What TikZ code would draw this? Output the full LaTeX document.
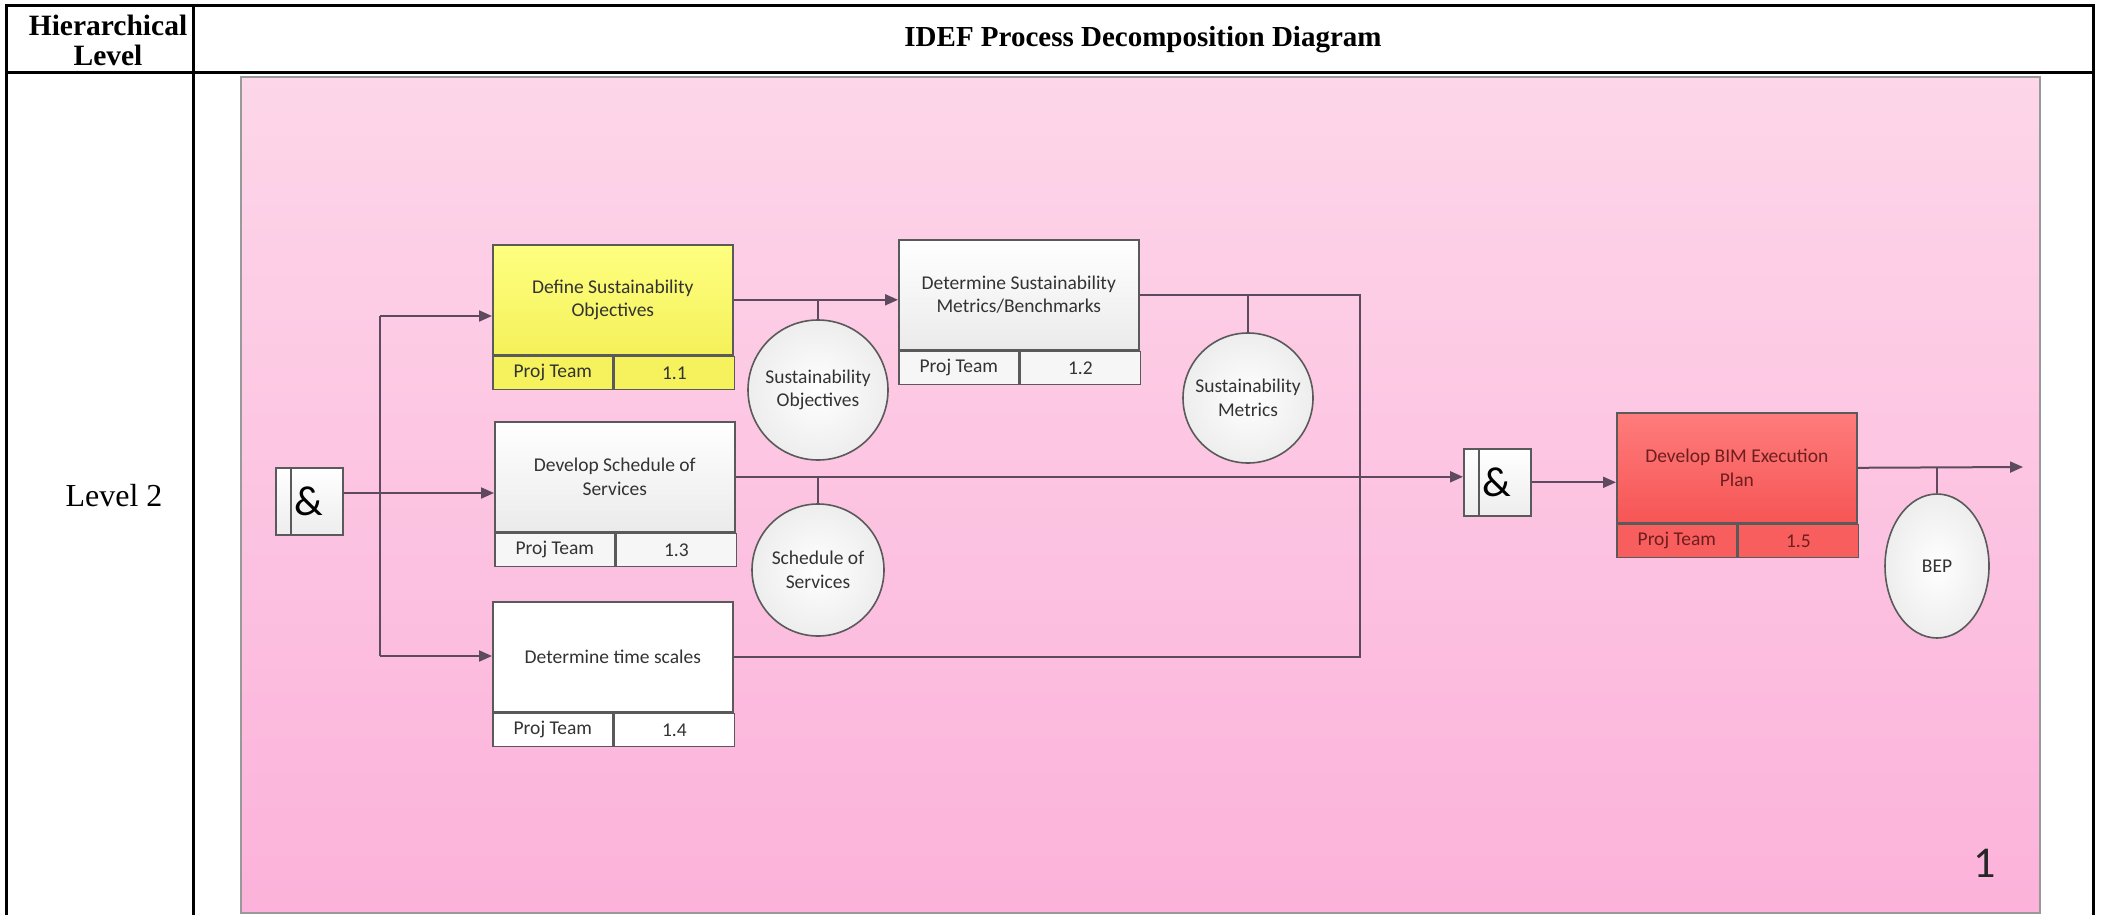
\documentclass[tikz,border=0pt]{standalone}
\usepackage{fontspec}
\setmainfont{Liberation Serif}
\newfontfamily\visiofont{Carlito}
\usetikzlibrary{arrows.meta,shapes.geometric}

\definecolor{pinktop}{HTML}{FDD6E9}
\definecolor{pinkbot}{HTML}{FCB2DA}
\definecolor{flowline}{HTML}{5E4A5E}
\definecolor{boxline}{HTML}{5A5A5A}
\definecolor{boxtext}{HTML}{333333}
\definecolor{yeltop}{HTML}{FFFF80}
\definecolor{yelbot}{HTML}{F4F15A}
\definecolor{yelfoot}{HTML}{F5F25E}
\definecolor{redtop}{HTML}{FF7C7C}
\definecolor{redbot}{HTML}{F65555}
\definecolor{redfoot}{HTML}{F85E5E}
\definecolor{redtext}{HTML}{6E1E1E}

\tikzset{
  boxfont/.style={font=\visiofont\fontsize{19.5}{23.5}\selectfont},
  procbox/.style={draw=boxline, line width=1.6pt, minimum width=240pt, minimum height=110pt,
    inner sep=0pt, anchor=north west, align=center, boxfont, text=boxtext},
  graybox/.style={procbox, top color=white, bottom color=gray!16},
  footcell/.style={draw=boxline, line width=1.6pt, minimum width=120pt, minimum height=33pt,
    inner sep=0pt, anchor=north west, boxfont, text=boxtext, fill=gray!7},
  datacircle/.style={circle, draw=boxline, line width=1.6pt, inner sep=0pt, align=center,
    boxfont, text=boxtext, inner color=white, outer color=gray!14},
  gatebox/.style={draw=boxline, line width=1.6pt, minimum width=67pt, minimum height=67pt,
    inner sep=0pt, anchor=north west, top color=white, bottom color=gray!14,
    font=\visiofont\fontsize{42}{42}\selectfont},
  link/.style={draw=flowline, line width=2pt},
  flow/.style={link, -{Triangle[length=13pt,width=11pt]}},
  tablerule/.style={line width=3pt, black}
}

\begin{document}
\begin{tikzpicture}[x=1pt, y=-1pt]
    \useasboundingbox (0,0) rectangle (2103,915);

    % Table frame
    \draw[tablerule] (6,915) -- (6,6) -- (2093,6) -- (2093,915);
    \draw[tablerule] (193,6) -- (193,915);
    \draw[tablerule] (6,73) -- (2093,73);

    % Headers
    \node[font=\bfseries\fontsize{29.5}{30}\selectfont, align=center] (hdrlevel) at (108,40) {Hierarchical\\Level};
    \node[font=\bfseries\fontsize{29}{30}\selectfont] (hdrtitle) at (1143,40) {IDEF Process Decomposition Diagram};
    \node[font=\fontsize{32}{36}\selectfont] (lvltwo) at (114,496) {Level 2};

    % Pink sheet
    \shadedraw[top color=pinktop, bottom color=pinkbot, draw=gray!80, line width=1.5pt] (241,77) rectangle (2040,913);
    \node[font=\visiofont\fontsize{44}{44}\selectfont, text=black!85] (sheetnum) at (1985,863) {1};

    % Activities
    \node[procbox, top color=yeltop, bottom color=yelbot] (p11) at (492,244) {Define Sustainability\\Objectives};
    \node[footcell, fill=yelfoot] (p11team) at (p11.south west) {Proj Team};
    \node[footcell, fill=yelfoot] (p11num) at (p11team.north east) {1.1};

    \node[graybox] (p12) at (898,239) {Determine Sustainability\\Metrics/Benchmarks};
    \node[footcell] (p12team) at (p12.south west) {Proj Team};
    \node[footcell] (p12num) at (p12team.north east) {1.2};

    \node[graybox] (p13) at (494,421) {Develop Schedule of\\Services};
    \node[footcell] (p13team) at (p13.south west) {Proj Team};
    \node[footcell] (p13num) at (p13team.north east) {1.3};

    \node[procbox, fill=white] (p14) at (492,601) {Determine time scales};
    \node[footcell, fill=white] (p14team) at (p14.south west) {Proj Team};
    \node[footcell, fill=white] (p14num) at (p14team.north east) {1.4};

    \node[procbox, top color=redtop, bottom color=redbot, text=redtext] (p15) at (1616,412) {Develop BIM Execution\\Plan};
    \node[footcell, fill=redfoot, text=redtext] (p15team) at (p15.south west) {Proj Team};
    \node[footcell, fill=redfoot, text=redtext] (p15num) at (p15team.north east) {1.5};

    % Junctions
    \node[gatebox] (g1) at (275,467) {\&};
    \draw[draw=boxline, line width=1.6pt] ([xshift=16pt]g1.north west) -- ([xshift=16pt]g1.south west);
    \node[gatebox] (g2) at (1463,448) {\&};
    \draw[draw=boxline, line width=1.6pt] ([xshift=16pt]g2.north west) -- ([xshift=16pt]g2.south west);

    % Outputs
    \node[datacircle, minimum size=140pt] (c1) at (818,390) {Sustainability\\Objectives};
    \node[datacircle, minimum size=132pt] (c2) at (818,570) {Schedule of\\Services};
    \node[datacircle, minimum size=130pt] (c3) at (1248,398) {Sustainability\\Metrics};
    \node[datacircle, ellipse, minimum width=104pt, minimum height=144pt] (c4) at (1937,566) {BEP};

    % Fan out from the first junction
    \coordinate (split) at (380,493);
    \coordinate (splittop) at (380,316);
    \coordinate (splitbot) at (380,656);
    \draw[link] (g1.east |- split) -- (split);
    \draw[link] (splittop) -- (splitbot);
    \draw[flow] (split) -- (split -| p13.west);
    \draw[flow] (splittop) -- (splittop -| p11.west);
    \draw[flow] (splitbot) -- (splitbot -| p14.west);

    % Flows between activities
    \draw[flow] (p11.east) -- (p11.east -| p12.west);
    \draw[link] (c1.north) -- (c1.north |- p11.east);
    \coordinate (merge) at (1360,476);
    \draw[link] (p12.east) -| (merge);
    \draw[link] (p14.east) -| (merge);
    \draw[link] (c3.north) -- (c3.north |- p12.east);
    \draw[flow] (p13.east) -- (p13.east -| g2.west);
    \draw[link] (c2.north) -- (c2.north |- p13.east);
    \draw[flow] (g2.east) -- (g2.east -| p15.west);
    \coordinate (bepout) at (2023,467);
    \draw[flow] (p15.east) -- (bepout);
    \draw[link] (c4.north) -- (c4.north |- p15.east);
\end{tikzpicture}
\end{document}
